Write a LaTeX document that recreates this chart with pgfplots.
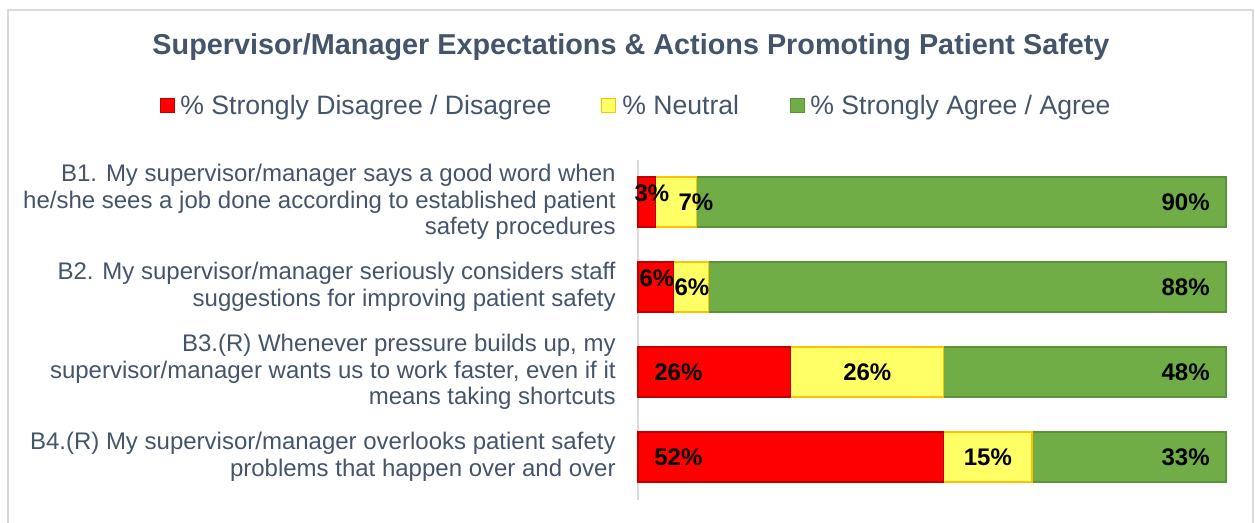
\documentclass[border=0pt]{standalone}
\usepackage{fontspec}
\setmainfont{Liberation Sans}
\usepackage{pgfplots}
\pgfplotsset{compat=1.18}
\definecolor{txt}{HTML}{44546A}
\definecolor{cred}{HTML}{FF0000}
\definecolor{credb}{HTML}{C00000}
\definecolor{cyel}{HTML}{FFFF66}
\definecolor{cyelb}{HTML}{FFC000}
\definecolor{cgrn}{HTML}{70AD47}
\definecolor{cgrnb}{HTML}{5B9239}
\definecolor{framec}{HTML}{D9D9D9}
\definecolor{axisc}{HTML}{D9D9D9}
\tikzset{lab/.style={font=\fontsize{12}{14}\selectfont\bfseries, text=black, inner sep=0pt}}
\begin{document}
\begin{tikzpicture}
\path[use as bounding box] (0,0) rectangle (627.5pt,-261.5pt);
\draw[framec, line width=0.6pt] (4pt,-261.5pt) -- (4pt,-5pt) -- (626.5pt,-5pt) -- (626.5pt,-261.5pt);
\node[anchor=base, inner sep=0pt, font=\fontsize{14.4}{17}\selectfont\bfseries, text=txt] at (315.5pt,-27.5pt) {Supervisor/Manager Expectations \& Actions Promoting Patient Safety};
% legend
\filldraw[fill=cred, draw=credb, line width=0.5pt] (80pt,-49.5pt) rectangle (87pt,-56.5pt);
\node[anchor=base west, inner sep=0pt, font=\fontsize{13.3}{16}\selectfont, text=txt] at (90pt,-57.5pt) {\% Strongly Disagree / Disagree};
\filldraw[fill=cyel, draw=cyelb, line width=0.5pt] (300.5pt,-49.5pt) rectangle (307.5pt,-56.5pt);
\node[anchor=base west, inner sep=0pt, font=\fontsize{13.3}{16}\selectfont, text=txt] at (311pt,-57.5pt) {\% Neutral};
\filldraw[fill=cgrn, draw=cgrnb, line width=0.5pt] (395pt,-49.5pt) rectangle (402pt,-56.5pt);
\node[anchor=base west, inner sep=0pt, font=\fontsize{13.3}{16}\selectfont, text=txt] at (405pt,-57.5pt) {\% Strongly Agree / Agree};
\begin{axis}[
  at={(319pt,-249.75pt)}, anchor=south west,
  scale only axis, width=294pt, height=170pt,
  xbar stacked, bar width=0.588,
  xmin=0, xmax=100, ymin=-0.5, ymax=3.5, y dir=reverse,
  axis x line=none, axis y line*=left,
  y axis line style={-, draw=axisc, line width=0.7pt},
  ytick={0,1,2,3}, major tick length=0pt,
  yticklabels={{B1. My supervisor/manager says a good word when\\he/she sees a job done according to established patient\\safety procedures},
               {B2. My supervisor/manager seriously considers staff\\suggestions for improving patient safety},
               {B3.(R) Whenever pressure builds up, my\\supervisor/manager wants us to work faster, even if it\\means taking shortcuts},
               {B4.(R) My supervisor/manager overlooks patient safety\\problems that happen over and over}},
  yticklabel style={align=right, font=\fontsize{12}{13.25}\selectfont, text=txt, inner sep=0pt, xshift=-11pt},
  clip=false,
]
\addplot[fill=cred, draw=credb, line width=0.6pt] coordinates {(3,0) (6,1) (26,2) (52,3)};
\addplot[fill=cyel, draw=cyelb, line width=0.6pt] coordinates {(7,0) (6,1) (26,2) (15,3)};
\addplot[fill=cgrn, draw=cgrnb, line width=0.6pt] coordinates {(90,0) (88,1) (48,2) (33,3)};
\coordinate (a1) at (axis cs:2.38,-0.106);
\coordinate (a2) at (axis cs:9.86,0);
\coordinate (a3) at (axis cs:100,0);
\coordinate (b1) at (axis cs:3.23,0.894);
\coordinate (b2) at (axis cs:9.18,1);
\coordinate (b3) at (axis cs:100,1);
\coordinate (c1) at (axis cs:0,2);
\coordinate (c2) at (axis cs:39,2);
\coordinate (c3) at (axis cs:100,2);
\coordinate (d1) at (axis cs:0,3);
\coordinate (d2) at (axis cs:59.5,3);
\coordinate (d3) at (axis cs:100,3);
\end{axis}
\node[lab] at (a1) {3\%};
\node[lab] at (a2) {7\%};
\node[lab, anchor=east, xshift=-8pt] at (a3) {90\%};
\node[lab] at (b1) {6\%};
\node[lab] at (b2) {6\%};
\node[lab, anchor=east, xshift=-8pt] at (b3) {88\%};
\node[lab, anchor=west, xshift=8pt] at (c1) {26\%};
\node[lab] at (c2) {26\%};
\node[lab, anchor=east, xshift=-8pt] at (c3) {48\%};
\node[lab, anchor=west, xshift=8pt] at (d1) {52\%};
\node[lab] at (d2) {15\%};
\node[lab, anchor=east, xshift=-8pt] at (d3) {33\%};
\end{tikzpicture}
\end{document}
